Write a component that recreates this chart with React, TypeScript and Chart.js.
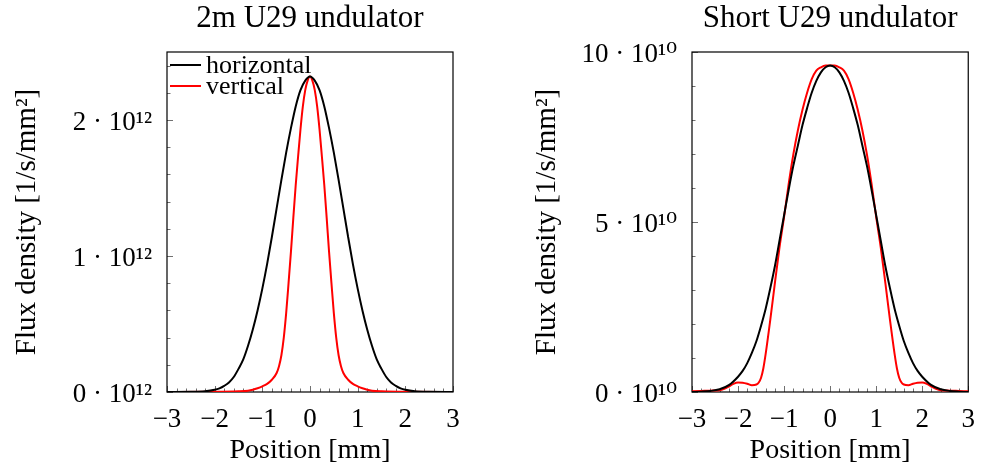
import React, { useEffect, useRef } from 'react';
import { Chart, registerables } from 'chart.js';

Chart.register(...registerables);

// ---------- data (left: units of 10^12, right: units of 10^10) ----------
const leftTitle = '2m U29 undulator';
const rightTitle = 'Short U29 undulator';
const xTickValues = [-3, -2, -1, 0, 1, 2, 3];
const leftYTickValues = [0, 1, 2];
const rightYTickValues = [0, 5, 10];
const leftExponent = '¹²';
const rightExponent = '¹⁰';
const seriesNames = ['horizontal', 'vertical'];

const leftHorizontalX = [-3, -2.5, -2.2, -2.0, -1.9, -1.8, -1.7, -1.6, -1.5, -1.4, -1.3, -1.2, -1.1, -1.0, -0.9, -0.8, -0.7, -0.6, -0.5, -0.4, -0.3, -0.2, -0.1, 0,
  0.1, 0.2, 0.3, 0.4, 0.5, 0.6, 0.7, 0.8, 0.9, 1.0, 1.1, 1.2, 1.3, 1.4, 1.5, 1.6, 1.7, 1.8, 1.9, 2.0, 2.2, 2.5, 3];
const leftHorizontalY = [0, 0.001, 0.005, 0.016, 0.027, 0.045, 0.07, 0.11, 0.17, 0.24, 0.34, 0.46, 0.6, 0.76, 0.94, 1.14, 1.35, 1.56, 1.76, 1.94, 2.1, 2.22, 2.29, 2.32,
  2.29, 2.22, 2.1, 1.94, 1.76, 1.56, 1.35, 1.14, 0.94, 0.76, 0.6, 0.46, 0.34, 0.24, 0.17, 0.11, 0.07, 0.045, 0.027, 0.016, 0.005, 0.001, 0];

const leftVerticalX = [-3, -2, -1.5, -1.3, -1.2, -1.1, -1.0, -0.9, -0.8, -0.7, -0.65, -0.6, -0.55, -0.5, -0.45, -0.4, -0.35, -0.3, -0.25, -0.2, -0.15, -0.1, -0.05, 0,
  0.05, 0.1, 0.15, 0.2, 0.25, 0.3, 0.35, 0.4, 0.45, 0.5, 0.55, 0.6, 0.65, 0.7, 0.8, 0.9, 1.0, 1.1, 1.2, 1.3, 1.5, 2, 3];
const leftVerticalY = [0, 0.001, 0.005, 0.01, 0.017, 0.028, 0.042, 0.06, 0.09, 0.14, 0.19, 0.27, 0.4, 0.58, 0.8, 1.03, 1.28, 1.52, 1.73, 1.93, 2.1, 2.22, 2.29, 2.32,
  2.29, 2.22, 2.1, 1.93, 1.73, 1.52, 1.28, 1.03, 0.8, 0.58, 0.4, 0.27, 0.19, 0.14, 0.09, 0.06, 0.042, 0.028, 0.017, 0.01, 0.005, 0.001, 0];

const rightHorizontalX = [-3, -2.8, -2.6, -2.4, -2.2, -2.0, -1.9, -1.8, -1.7, -1.6, -1.5, -1.4, -1.3, -1.2, -1.1, -1.0, -0.9, -0.8, -0.7, -0.6, -0.5, -0.4, -0.3, -0.2, -0.1, 0,
  0.1, 0.2, 0.3, 0.4, 0.5, 0.6, 0.7, 0.8, 0.9, 1.0, 1.1, 1.2, 1.3, 1.4, 1.5, 1.6, 1.7, 1.8, 1.9, 2.0, 2.2, 2.4, 2.6, 2.8, 3];
const rightHorizontalY = [0, 0.01, 0.03, 0.08, 0.2, 0.45, 0.62, 0.85, 1.15, 1.5, 1.95, 2.45, 3.05, 3.7, 4.45, 5.2, 5.95, 6.65, 7.25, 7.85, 8.35, 8.8, 9.15, 9.4, 9.55, 9.6,
  9.55, 9.4, 9.15, 8.8, 8.35, 7.85, 7.25, 6.65, 5.95, 5.2, 4.45, 3.7, 3.05, 2.45, 1.95, 1.5, 1.15, 0.85, 0.62, 0.45, 0.2, 0.08, 0.03, 0.01, 0];

const rightVerticalX = [-3, -2.8, -2.6, -2.4, -2.3, -2.2, -2.1, -2.0, -1.9, -1.8, -1.7, -1.6, -1.55, -1.5, -1.45, -1.4, -1.3, -1.2, -1.1, -1.0, -0.9, -0.8, -0.7, -0.6, -0.5, -0.4, -0.3, -0.2, -0.1, 0,
  0.1, 0.2, 0.3, 0.4, 0.5, 0.6, 0.7, 0.8, 0.9, 1.0, 1.1, 1.2, 1.3, 1.4, 1.45, 1.5, 1.55, 1.6, 1.7, 1.8, 1.9, 2.0, 2.1, 2.2, 2.3, 2.4, 2.6, 2.8, 3];
const rightVerticalY = [0.02, 0.03, 0.04, 0.05, 0.09, 0.16, 0.24, 0.28, 0.27, 0.24, 0.2, 0.22, 0.28, 0.42, 0.7, 1.12, 2.12, 3.2, 4.25, 5.15, 6.12, 6.98, 7.7, 8.3, 8.8, 9.2, 9.45, 9.55, 9.6, 9.6,
  9.6, 9.55, 9.45, 9.2, 8.8, 8.3, 7.7, 6.98, 6.12, 5.15, 4.25, 3.2, 2.12, 1.12, 0.7, 0.42, 0.28, 0.22, 0.2, 0.24, 0.27, 0.28, 0.24, 0.16, 0.09, 0.05, 0.04, 0.03, 0.02];

// ---------- styling ----------
const FONT = "'Liberation Serif', 'DejaVu Serif', serif";
const BLACK = '#000000';
const RED = '#ff0000';

const zip = (xs: number[], ys: number[]) => xs.map((x, i) => ({ x, y: ys[i] }));
const minus = (v: number) => (v < 0 ? '\u2212' + Math.abs(v) : String(v));

const frameTicks = {
  id: 'frameTicks',
  beforeDatasetsDraw(chart: any, _a: any, opts: any) {
    const { ctx, chartArea: ca } = chart;
    const xs = chart.scales.x;
    const ys = chart.scales.y;
    ctx.save();
    ctx.strokeStyle = '#707070';
    ctx.lineWidth = 1;
    const drawX = (step: number, len: number) => {
      const n = Math.floor((xs.max - xs.min) / step + 1e-6);
      for (let i = 0; i <= n; i++) {
        const px = Math.round(xs.getPixelForValue(xs.min + i * step)) + 0.5;
        ctx.beginPath();
        ctx.moveTo(px, ca.bottom);
        ctx.lineTo(px, ca.bottom - len);
        ctx.stroke();
      }
    };
    const drawY = (step: number, len: number) => {
      const n = Math.floor((ys.max - ys.min) / step + 1e-6);
      for (let i = 0; i <= n; i++) {
        const py = Math.round(ys.getPixelForValue(ys.min + i * step)) + 0.5;
        ctx.beginPath();
        ctx.moveTo(ca.left, py);
        ctx.lineTo(ca.left + len, py);
        ctx.stroke();
      }
    };
    drawX(opts.xMinor, 3.5);
    drawX(opts.xMajor, 6);
    drawY(opts.yMinor, 3.5);
    drawY(opts.yMajor, 6);
    ctx.strokeStyle = '#000';
    ctx.lineWidth = 1.2;
    ctx.strokeRect(ca.left, ca.top, ca.right - ca.left, ca.bottom - ca.top);
    ctx.restore();
  },
};

const insideLegend = {
  id: 'insideLegend',
  afterDatasetsDraw(chart: any, _a: any, opts: any) {
    if (!opts || !opts.show) return;
    const { ctx, chartArea: ca } = chart;
    ctx.save();
    ctx.font = `26px ${FONT}`;
    ctx.textBaseline = 'middle';
    ctx.textAlign = 'left';
    chart.data.datasets.forEach((ds: any, i: number) => {
      const y = ca.top + 13 + i * 21;
      ctx.strokeStyle = ds.borderColor;
      ctx.lineWidth = 2;
      ctx.beginPath();
      ctx.moveTo(ca.left + 3, y);
      ctx.lineTo(ca.left + 34, y);
      ctx.stroke();
      ctx.fillStyle = '#000';
      ctx.fillText(ds.label, ca.left + 39, y + 1);
    });
    ctx.restore();
  },
};

Chart.register(frameTicks, insideLegend);

type PanelProps = {
  left: number;
  width: number;
  title: string;
  yMax: number;
  yTicks: number[];
  exponent: string;
  yMinor: number;
  yMajor: number;
  yAxisWidth: number;
  padRight: number;
  series: { x: number[]; y: number[]; color: string; label: string }[];
  legend: boolean;
};

function Panel(p: PanelProps) {
  const ref = useRef<HTMLCanvasElement>(null);
  useEffect(() => {
    if (!ref.current) return;
    const chart = new Chart(ref.current, {
      type: 'line',
      data: {
        datasets: p.series.map((s) => ({
          label: s.label,
          data: zip(s.x, s.y),
          borderColor: s.color,
          backgroundColor: s.color,
          borderWidth: 2,
          pointRadius: 0,
          fill: false,
          cubicInterpolationMode: 'monotone' as const,
        })),
      },
      options: {
        animation: false,
        responsive: false,
        layout: { padding: { left: 0, right: p.padRight, top: 0, bottom: 0 } },
        scales: {
          x: {
            type: 'linear',
            min: -3,
            max: 3,
            grid: { display: false, drawTicks: false },
            border: { display: false },
            afterBuildTicks: (s: any) => {
              s.ticks = xTickValues.map((v) => ({ value: v }));
            },
            afterFit: (s: any) => {
              s.height = 78;
            },
            ticks: {
              color: '#000',
              padding: 12,
              maxRotation: 0,
              autoSkip: false,
              font: { family: FONT, size: 27 },
              callback: (v: any) => minus(Number(v)),
            },
            title: {
              display: true,
              text: 'Position [mm]',
              color: '#000',
              font: { family: FONT, size: 28 },
              padding: { top: 3, bottom: 3 },
            },
          },
          y: {
            type: 'linear',
            min: 0,
            max: p.yMax,
            grid: { display: false, drawTicks: false },
            border: { display: false },
            afterBuildTicks: (s: any) => {
              s.ticks = p.yTicks.map((v) => ({ value: v }));
            },
            afterFit: (s: any) => {
              s.width = p.yAxisWidth;
            },
            ticks: {
              color: '#000',
              padding: 15,
              labelOffset: 3,
              autoSkip: false,
              font: { family: FONT, size: 27 },
              callback: (v: any) => `${v} · 10${p.exponent}`,
            },
            title: {
              display: true,
              text: 'Flux density [1/s/mm²]',
              color: '#000',
              font: { family: FONT, size: 29 },
              padding: { top: 10, bottom: 10 },
            },
          },
        },
        plugins: {
          legend: { display: false },
          tooltip: { enabled: false },
          title: {
            display: true,
            text: p.title,
            fullSize: false,
            color: '#000',
            font: { family: FONT, size: 31, weight: 'normal' },
            padding: { top: 0, bottom: 14.8 },
          },
          frameTicks: { xMinor: 0.2, xMajor: 1, yMinor: p.yMinor, yMajor: p.yMajor },
          insideLegend: { show: p.legend },
        } as any,
      },
    } as any);
    return () => chart.destroy();
  }, []);
  return (
    <canvas
      ref={ref}
      width={p.width}
      height={470}
      style={{ position: 'absolute', left: p.left, top: 0, width: p.width, height: 470 }}
    />
  );
}

export default function App() {
  return (
    <div style={{ position: 'fixed', left: 0, top: 0, width: 987, height: 470, background: '#fff' }}>
      <Panel
        left={0}
        width={520}
        title={leftTitle}
        yMax={2.5}
        yTicks={leftYTickValues}
        exponent={leftExponent}
        yMinor={0.2}
        yMajor={1}
        yAxisWidth={167}
        padRight={67}
        legend={true}
        series={[
          { x: leftHorizontalX, y: leftHorizontalY, color: BLACK, label: seriesNames[0] },
          { x: leftVerticalX, y: leftVerticalY, color: RED, label: seriesNames[1] },
        ]}
      />
      <Panel
        left={520}
        width={467}
        title={rightTitle}
        yMax={10}
        yTicks={rightYTickValues}
        exponent={rightExponent}
        yMinor={1}
        yMajor={5}
        yAxisWidth={172}
        padRight={9}
        legend={false}
        series={[
          { x: rightHorizontalX, y: rightHorizontalY, color: BLACK, label: seriesNames[0] },
          { x: rightVerticalX, y: rightVerticalY, color: RED, label: seriesNames[1] },
        ]}
      />
    </div>
  );
}
